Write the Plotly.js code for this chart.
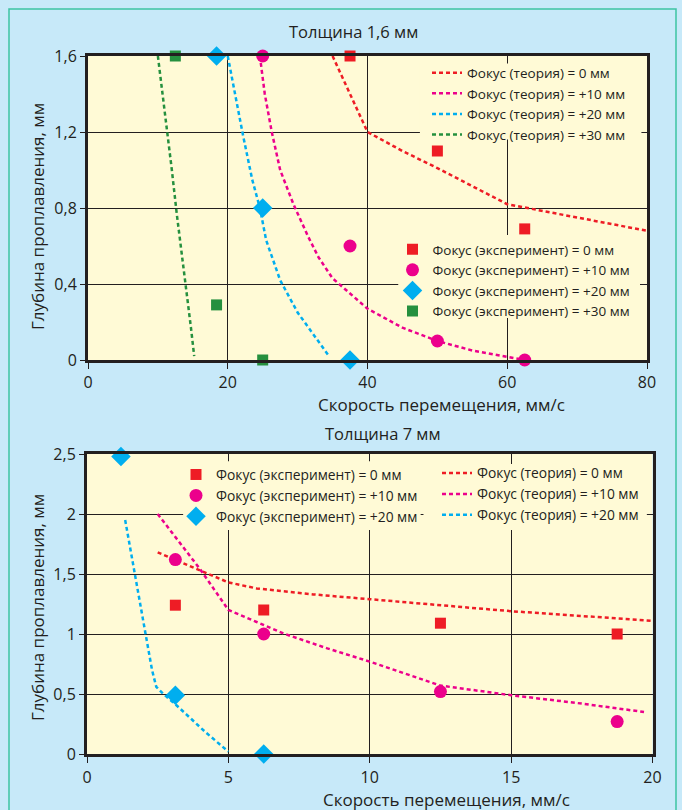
<!DOCTYPE html>
<html>
<head>
<meta charset="utf-8">
<script src="https://cdn.plot.ly/plotly-3.0.1.min.js"></script>
<style>
  html, body { margin: 0; padding: 0; background: #c7e9f9; }
  #chart { width: 682px; height: 810px; }
</style>
</head>
<body>
<div id="chart"></div>
<script>
// ---------- Top chart: thickness 1.6 mm ----------
const topTitle = "Толщина 1,6 мм";
const topTheoryNames = ["Фокус (теория) = 0 мм", "Фокус (теория) = +10 мм", "Фокус (теория) = +20 мм", "Фокус (теория) = +30 мм"];
const topExpNames = ["Фокус (эксперимент) = 0 мм", "Фокус (эксперимент) = +10 мм", "Фокус (эксперимент) = +20 мм", "Фокус (эксперимент) = +30 мм"];

const topTheory0X = [35, 37.5, 40, 45, 50, 55, 60, 70, 80];
const topTheory0Y = [1.6, 1.4, 1.2, 1.1, 1.01, 0.915, 0.82, 0.75, 0.68];
const topTheory10X = [24.6, 25.3, 26.3, 27.5, 29.4, 31.5, 33, 35, 37.5, 40, 45, 50, 55, 60, 62.5];
const topTheory10Y = [1.6, 1.4, 1.2, 1.0, 0.82, 0.65, 0.54, 0.43, 0.35, 0.27, 0.17, 0.1, 0.05, 0.015, 0];
const topTheory20X = [20, 21, 22.2, 23.5, 24.6, 25.5, 27.5, 30, 32.2, 34.5];
const topTheory20Y = [1.6, 1.4, 1.18, 0.95, 0.8, 0.63, 0.42, 0.25, 0.14, 0.02];
const topTheory30X = [10, 10.7, 11.35, 12, 12.7, 13.4, 14.1, 14.7, 15.2];
const topTheory30Y = [1.6, 1.4, 1.2, 1.0, 0.77, 0.57, 0.37, 0.18, 0.02];

const topExp0X = [37.5, 50, 62.5];
const topExp0Y = [1.6, 1.1, 0.69];
const topExp10X = [25, 37.5, 50, 62.5];
const topExp10Y = [1.6, 0.6, 0.1, 0];
const topExp20X = [18.4, 25, 37.5];
const topExp20Y = [1.6, 0.8, 0];
const topExp30X = [12.5, 18.4, 25];
const topExp30Y = [1.6, 0.29, 0];

// ---------- Bottom chart: thickness 7 mm ----------
const botTitle = "Толщина 7 мм";
const botExpNames = ["Фокус (эксперимент) = 0 мм", "Фокус (эксперимент) = +10 мм", "Фокус (эксперимент) = +20 мм"];
const botTheoryNames = ["Фокус (теория) = 0 мм", "Фокус (теория) = +10 мм", "Фокус (теория) = +20 мм"];

const botTheory0X = [2.5, 3, 3.5, 4, 5, 6, 8, 10, 12.5, 15, 17.5, 20];
const botTheory0Y = [1.68, 1.63, 1.58, 1.53, 1.43, 1.38, 1.33, 1.29, 1.24, 1.19, 1.15, 1.11];
const botTheory10X = [2.5, 3, 3.5, 4, 4.5, 5, 6, 7, 8.5, 10, 12.5, 15, 17.5, 19.7];
const botTheory10Y = [2.0, 1.85, 1.7, 1.54, 1.37, 1.2, 1.1, 1.0, 0.88, 0.77, 0.57, 0.49, 0.42, 0.35];
const botTheory20X = [1.35, 1.5, 1.7, 1.9, 2.1, 2.3, 2.45, 2.7, 3.1, 3.6, 4.2, 5];
const botTheory20Y = [1.95, 1.75, 1.5, 1.22, 0.95, 0.7, 0.56, 0.5, 0.42, 0.31, 0.18, 0.02];

const botExp0X = [3.125, 6.25, 12.5, 18.75];
const botExp0Y = [1.24, 1.2, 1.09, 1.0];
const botExp10X = [3.125, 6.25, 12.5, 18.75];
const botExp10Y = [1.62, 1.0, 0.52, 0.27];
const botExp20X = [1.2, 3.125, 6.25];
const botExp20Y = [2.48, 0.49, 0];

const xTitle = "Скорость перемещения, мм/с";
const yTitle = "Глубина проплавления, мм";

// ---------- styles ----------
const RED = "#ee1c25", MAG = "#ec008c", CYAN = "#00aeef", GREEN = "#25903e";
const INK = "#231f20";
const PLOTBG = "#fffad6";
const FONT = "Open Sans, Liberation Sans, Arial, sans-serif";

function line(x, y, name, color, xa, ya, legend) {
  return { type: "scatter", mode: "lines", x, y, name, xaxis: xa, yaxis: ya, legend,
    line: { color, width: 2.5, dash: "4px,3px" }, cliponaxis: false, hoverinfo: "skip" };
}
function pts(x, y, name, color, symbol, size, xa, ya, legend) {
  return { type: "scatter", mode: "markers", x, y, name, xaxis: xa, yaxis: ya, legend,
    marker: { color, symbol, size, line: { width: 0 } }, cliponaxis: false };
}

const data = [
  line(topTheory0X, topTheory0Y, topTheoryNames[0], RED, "x", "y", "legend"),
  line(topTheory10X, topTheory10Y, topTheoryNames[1], MAG, "x", "y", "legend"),
  line(topTheory20X, topTheory20Y, topTheoryNames[2], CYAN, "x", "y", "legend"),
  line(topTheory30X, topTheory30Y, topTheoryNames[3], GREEN, "x", "y", "legend"),
  pts(topExp0X, topExp0Y, topExpNames[0], RED, "square", 11, "x", "y", "legend2"),
  pts(topExp10X, topExp10Y, topExpNames[1], MAG, "circle", 13, "x", "y", "legend2"),
  pts(topExp20X, topExp20Y, topExpNames[2], CYAN, "diamond", 15, "x", "y", "legend2"),
  pts(topExp30X, topExp30Y, topExpNames[3], GREEN, "square", 11, "x", "y", "legend2"),

  line(botTheory0X, botTheory0Y, botTheoryNames[0], RED, "x2", "y2", "legend4"),
  line(botTheory10X, botTheory10Y, botTheoryNames[1], MAG, "x2", "y2", "legend4"),
  line(botTheory20X, botTheory20Y, botTheoryNames[2], CYAN, "x2", "y2", "legend4"),
  pts(botExp0X, botExp0Y, botExpNames[0], RED, "square", 11, "x2", "y2", "legend3"),
  pts(botExp10X, botExp10Y, botExpNames[1], MAG, "circle", 13, "x2", "y2", "legend3"),
  pts(botExp20X, botExp20Y, botExpNames[2], CYAN, "diamond", 15, "x2", "y2", "legend3")
];

const W = 682, H = 810;
const px = v => v / W;
const py = v => 1 - v / H;

function axis(range, dtick, domain, anchor, len, standoff) {
  return {
    range, dtick, tick0: 0, domain, anchor,
    showgrid: true, gridcolor: INK, gridwidth: 1,
    zeroline: false,
    showline: true, linecolor: INK, linewidth: 3, mirror: true,
    ticks: "outside", ticklen: len, tickcolor: INK, tickwidth: 1,
    ticklabelstandoff: standoff,
    tickfont: { family: FONT, size: 16, color: INK },
    fixedrange: true
  };
}

function legendCfg(x, y, size) {
  return { x, y, xanchor: "left", yanchor: "top", xref: "paper", yref: "paper",
    bgcolor: "rgba(0,0,0,0)", borderwidth: 0, traceorder: "normal",
    font: { family: FONT, size, color: INK }, itemclick: false, itemdoubleclick: false };
}

function ann(text, x, y, angle, size) {
  return { text, x: px(x), y: py(y), xref: "paper", yref: "paper", showarrow: false,
    xanchor: "center", yanchor: "middle", textangle: angle || 0,
    font: { family: FONT, size: size || 16.5, color: INK } };
}

// plain patches that hide the grid behind each legend (drawn between grid and traces)
function patch(xref, yref, x0, x1, y0, y1) {
  return { type: "rect", xref, yref, x0, x1, y0, y1, layer: "between",
    fillcolor: PLOTBG, line: { width: 0 } };
}

const layout = {
  width: W, height: H,
  margin: { l: 0, r: 0, t: 0, b: 0 },
  paper_bgcolor: "#c7e9f9",
  plot_bgcolor: PLOTBG,
  separators: ", ",
  font: { family: FONT, color: INK },
  showlegend: true,
  xaxis: axis([0, 80], 20, [px(88), px(647)], "y", 6, 0),
  yaxis: axis([0, 1.6], 0.4, [py(360), py(56)], "x", 5, 0),
  xaxis2: axis([0, 20], 5, [px(87), px(652.5)], "y2", 6, 1),
  yaxis2: axis([0, 2.5], 0.5, [py(754), py(454)], "x2", 5, 0),
  legend: legendCfg(px(427), py(57.5), 13.5),
  legend2: legendCfg(px(392.5), py(234), 13.5),
  legend3: legendCfg(px(176), py(459), 13.8),
  legend4: legendCfg(px(437), py(457.5), 13.8),
  annotations: [
    ann(topTitle, 353, 31),
    ann(botTitle, 383, 433),
    ann(xTitle, 441, 404, 0, 17),
    ann(xTitle, 446, 799, 0, 17),
    ann(yTitle, 37, 217, -90, 17),
    ann(yTitle, 37, 608, -90, 17)
  ],
  shapes: [
    patch("x", "y", 47.5, 79.2, 1.16, 1.56),
    patch("x", "y", 44.4, 79.0, 0.221, 0.658),
    patch("x2", "y2", 3.4, 11.8, 1.867, 2.44),
    patch("x2", "y2", 11.9, 19.8, 1.867, 2.417),
    { type: "rect", xref: "paper", yref: "paper", x0: px(9), x1: px(676), y0: -0.05, y1: py(9),
      line: { color: "#3cc3a2", width: 1.5 }, layer: "above" }
  ]
};

Plotly.newPlot("chart", data, layout, { displayModeBar: false, staticPlot: true });
</script>
</body>
</html>
